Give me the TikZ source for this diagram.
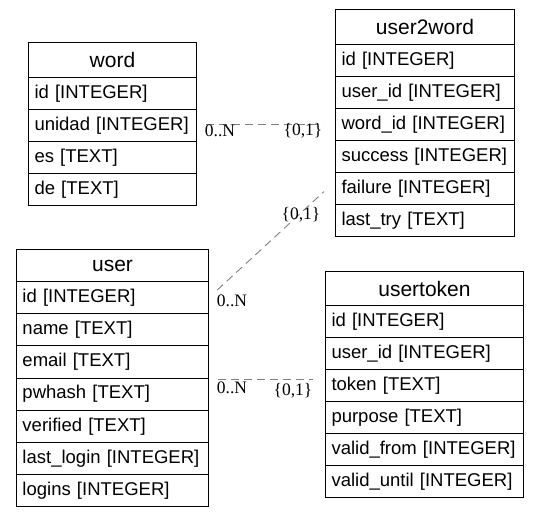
\documentclass[tikz,border=0pt]{standalone}
\usepackage{fontspec}
\setmainfont{Liberation Sans}
\newfontfamily\lblfont{Liberation Serif}
\begin{document}
\begin{tikzpicture}[x=1pt,y=-1pt,
  cell/.style={draw=black, line width=1pt, rectangle, inner xsep=6pt, inner ysep=0pt,
    anchor=north west, font=\fontsize{18.5}{20}\selectfont, minimum height=32pt, align=left},
  head/.style={draw=black, line width=1pt, rectangle, inner sep=0pt,
    anchor=north west, font=\fontsize{21}{22}\selectfont, align=center},
  rel/.style={draw=black!50, line width=0.9pt, dash pattern=on 8pt off 5pt},
  card/.style={font=\lblfont\fontsize{17.5}{18}\selectfont, inner sep=0pt}]
\useasboundingbox (0,0) rectangle (539,517);

% word
\node[head, minimum width=168pt, text width=168pt, minimum height=35pt] (w0) at (28,42) {word};
\foreach \t [count=\i] in {id [INTEGER], unidad [INTEGER], es [TEXT], de [TEXT]}
  \node[cell, text width=156pt] (w\i) at (28,{77+32*(\i-1)}) {\t};

% user2word
\node[head, minimum width=179pt, text width=179pt, minimum height=35pt] (x0) at (335,9) {user2word};
\foreach \t [count=\i] in {id [INTEGER], user\_id [INTEGER], word\_id [INTEGER], success [INTEGER], failure [INTEGER], last\_try [TEXT]}
  \node[cell, text width=167pt] (x\i) at (335,{44+32*(\i-1)}) {\t};

% user
\node[head, minimum width=192pt, text width=192pt, minimum height=32pt] (u0) at (16,249) {user};
\foreach \t [count=\i] in {id [INTEGER], name [TEXT], email [TEXT], pwhash [TEXT], verified [TEXT], last\_login [INTEGER], logins [INTEGER]}
  \node[cell, text width=180pt, minimum height=32.2pt] (u\i) at (16,{281+32.2*(\i-1)}) {\t};

% usertoken
\node[head, minimum width=198pt, text width=198pt, minimum height=34pt] (t0) at (325,271) {usertoken};
\foreach \t [count=\i] in {id [INTEGER], user\_id [INTEGER], token [TEXT], purpose [TEXT], valid\_from [INTEGER], valid\_until [INTEGER]}
  \node[cell, text width=186pt, minimum height=32pt] (t\i) at (325,{305+32*(\i-1)}) {\t};

% relations
\coordinate (r1a) at ([yshift=1.5pt]w2.east);
\coordinate (r1b) at (x3.west |- r1a);
\draw[rel, shorten <=9pt, shorten >=12pt] (r1a) -- (r1b);
\node[card] (c1a) at (220,131) {0..N};
\node[card] (c1b) at (303,131) {\{0,1\}};

\coordinate (r2b) at ([yshift=7pt]x5.west);
\draw[rel, shorten <=11pt, shorten >=15pt] (u1.east) -- (r2b);
\node[card] (c2a) at (232,301) {0..N};
\node[card] (c2b) at (301,215) {\{0,1\}};

\coordinate (r3a) at (u4.north east);
\coordinate (r3b) at (t3.west |- r3a);
\draw[rel, shorten <=9pt, shorten >=12pt] ([yshift=-2pt]r3a) -- ([yshift=-2pt]r3b);
\node[card] (c3a) at (232,388) {0..N};
\node[card] (c3b) at (293,391) {\{0,1\}};
\end{tikzpicture}
\end{document}
